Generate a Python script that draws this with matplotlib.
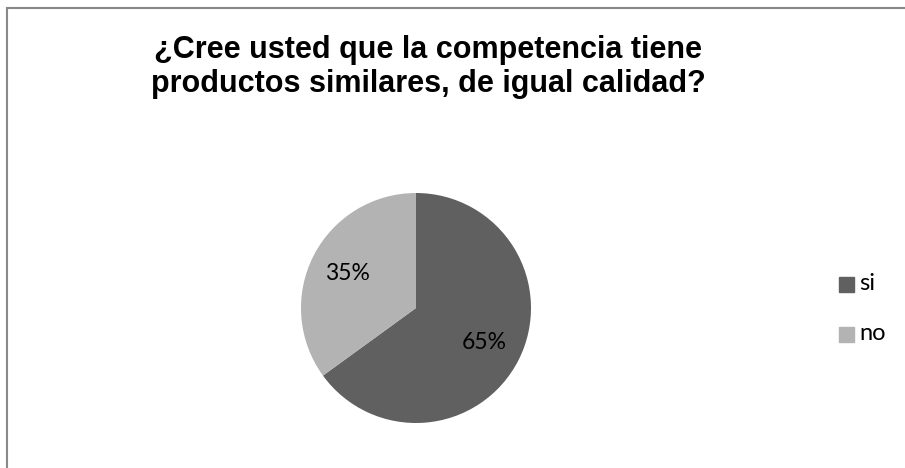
import matplotlib
matplotlib.use("Agg")
import matplotlib.pyplot as plt
from matplotlib.patches import Rectangle

# survey answers
labels = ["si", "no"]
values = [65, 35]
colors = ["#606060", "#b3b3b3"]

title_lines = ["¿Cree usted que la competencia tiene",
               "productos similares, de igual calidad?"]

W, H = 905, 468
fig = plt.figure(figsize=(W / 100, H / 100), dpi=100)
ax = fig.add_axes([0, 0, 1, 1])

wedges, texts, autotexts = ax.pie(
    values, colors=colors, startangle=90, counterclock=False,
    center=(416, H - 308), radius=115, autopct="%d%%", pctdistance=0.67,
    textprops=dict(fontsize=16.5, family="Lato", color="black"))

# pie() resets the limits, so put the pixel frame back afterwards
ax.set_xlim(0, W)
ax.set_ylim(0, H)
ax.set_aspect("equal")
ax.axis("off")

# chart frame
ax.add_patch(Rectangle((6.5, -10), W + 20, H - 7.5 + 10, fill=False,
                       edgecolor="#888888", linewidth=1.5))

# title, one line at a time for tighter control of the spacing
for i, line in enumerate(title_lines):
    ax.text(428, H - 58 - i * 34, line, ha="center", va="baseline",
            fontsize=22, fontweight="bold", family="Liberation Sans")

# legend
for i, (lab, c) in enumerate(zip(labels, colors)):
    y = H - 284 - i * 50
    ax.add_patch(Rectangle((839, y - 7.5), 15, 15, color=c))
    ax.text(859, y + 1, lab, ha="left", va="center", fontsize=17, family="Lato")

fig.savefig("out.png", dpi=100)
